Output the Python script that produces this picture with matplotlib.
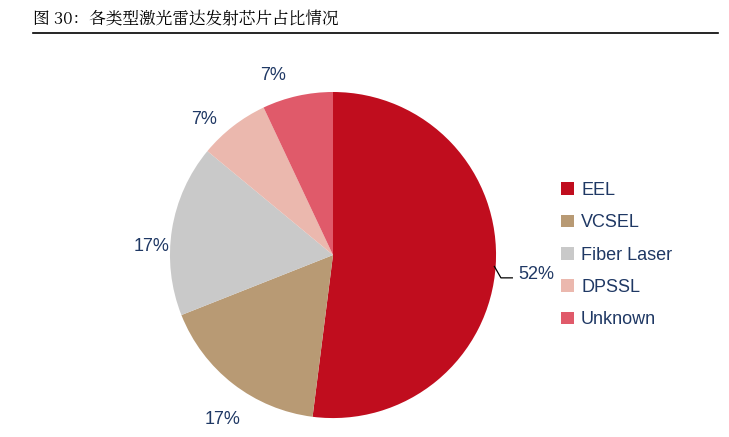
import matplotlib.pyplot as plt

plt.rcParams['font.family'] = ['Arial', 'Liberation Sans', 'DejaVu Sans']

labels = ['EEL', 'VCSEL', 'Fiber Laser', 'DPSSL', 'Unknown']
values = [52, 17, 17, 7, 7]
colors = ['#C00D1E', '#B89A74', '#C9C9C9', '#EBB8AE', '#E05A6A']
pct_text = ['52%', '17%', '17%', '7%', '7%']
label_pos = [(1.25, -0.12), (-0.68, -1.01), (-1.11, 0.05), (-0.79, 0.83), (-0.37, 1.10)]
text_color = '#1F3864'

fig = plt.figure(figsize=(7.29, 4.37), dpi=100)
fig.text(0.045, 0.955, '图 30：各类型激光雷达发射芯片占比情况', fontsize=12,
         family=['Noto Serif CJK SC', 'Noto Sans CJK SC', 'DejaVu Sans'], va='center')
fig.add_artist(plt.Line2D([0.045, 0.985], [0.925, 0.925], color='black', lw=1.2))

ax = fig.add_axes([0.166, -0.0686, 0.5816, 0.970])
wedges, _ = ax.pie(values, colors=colors, startangle=90, counterclock=False,
                   wedgeprops=dict(linewidth=0))
ax.set_xlim(-1.3, 1.3)
ax.set_ylim(-1.3, 1.3)
ax.set_aspect('equal')
ax.axis('off')

for t, (x, y) in zip(pct_text, label_pos):
    ax.text(x, y, t, fontsize=13, color=text_color, ha='center', va='center')
ax.plot([0.99, 1.03, 1.1], [-0.07, -0.14, -0.14], color='black', lw=0.9, clip_on=False)

ax.legend(wedges, labels, loc='center left', bbox_to_anchor=(1.0, 0.5), frameon=False,
          fontsize=13, handlelength=0.7, handleheight=0.7, handletextpad=0.4,
          labelspacing=0.85, labelcolor=text_color)

fig.savefig('out.png', dpi=100)
